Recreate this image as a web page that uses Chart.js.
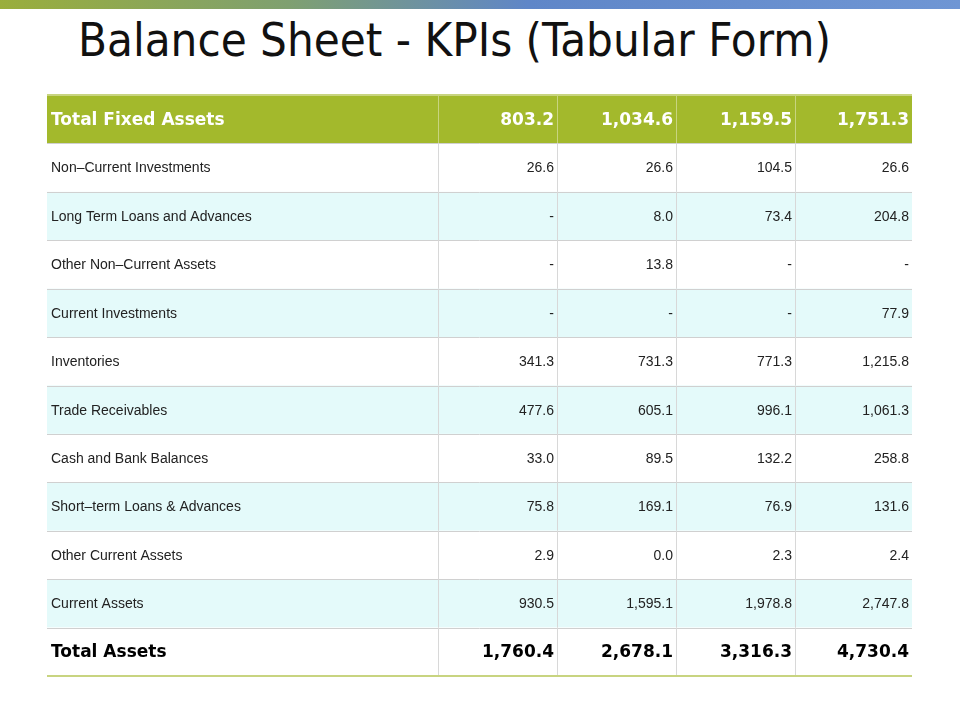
<!DOCTYPE html>
<html><head><meta charset="utf-8">
<script src="https://cdn.jsdelivr.net/npm/chart.js@4"></script>
<style>html,body{margin:0;padding:0;background:#fff;width:960px;height:720px;overflow:hidden}
#bar{position:absolute;left:0;top:0;width:960px;height:9px;background:linear-gradient(90deg,#9aae3c 0%,#7fa070 30%,#5f86c8 55%,#6f96d4 100%)}
h1{position:absolute;left:78px;top:12px;margin:0;font:400 47px "DejaVu Sans Condensed","DejaVu Sans",sans-serif;color:#111;white-space:nowrap}
#wrap{position:absolute;left:0;top:0;width:960px;height:720px}</style></head>
<body><div id="bar"></div><h1>Balance Sheet - KPIs (Tabular Form)</h1>
<div id="wrap"><canvas id="c" width="960" height="720"></canvas></div>
<script>
const rowLabels=["Total Fixed Assets","Non–Current Investments","Long Term Loans and Advances","Other Non–Current Assets","Current Investments","Inventories","Trade Receivables","Cash and Bank Balances","Short–term Loans & Advances","Other Current Assets","Current Assets","Total Assets"];
const col1=["803.2","26.6","-","-","-","341.3","477.6","33.0","75.8","2.9","930.5","1,760.4"];
const col2=["1,034.6","26.6","8.0","13.8","-","731.3","605.1","89.5","169.1","0.0","1,595.1","2,678.1"];
const col3=["1,159.5","104.5","73.4","-","-","771.3","996.1","132.2","76.9","2.3","1,978.8","3,316.3"];
const col4=["1,751.3","26.6","204.8","-","77.9","1,215.8","1,061.3","258.8","131.6","2.4","2,747.8","4,730.4"];
const boldRows=["Total Fixed Assets","Total Assets"];
const cols=[col1,col2,col3,col4];
const colEdges=[0,391,510,629,748,865];
const tablePlugin={id:'table',afterDraw(ch){
 const ctx=ch.ctx,y=ch.scales.y,x=ch.scales.x;
 const n=rowLabels.length,h=y.height/n;
 const X=v=>x.getPixelForValue(v);
 ctx.save();
 rowLabels.forEach((lab,i)=>{
  const cy=y.getPixelForValue(i),top=cy-h/2;
  ctx.fillStyle=i===0?'#a3b92c':(i%2===0?'#e4fafa':'#ffffff');
  ctx.fillRect(X(0),top,X(865)-X(0),h);
 });
 rowLabels.forEach((lab,i)=>{
  const cy=y.getPixelForValue(i),top=cy-h/2;
  const bold=boldRows.includes(lab);
  ctx.fillStyle=i===0?'#ffffff':(bold?'#000':'#222');ctx.textBaseline='middle';
  ctx.font=bold?'bold 17px "DejaVu Sans",sans-serif':'14px "Liberation Sans",Arial,sans-serif';
  ctx.textAlign='left';ctx.fillText(lab,X(0)+4,cy+1);
  ctx.textAlign='right';
  cols.forEach((c,j)=>ctx.fillText(c[i],X(colEdges[j+2])-3,cy+1));
  ctx.strokeStyle=i===0?'#c8d480':'#d8d8d8';ctx.lineWidth=1;
  for(let k=1;k<5;k++){ctx.beginPath();ctx.moveTo(Math.round(X(colEdges[k]))+0.5,top);ctx.lineTo(Math.round(X(colEdges[k]))+0.5,top+h);ctx.stroke();}
  if(i<n-1){ctx.strokeStyle='#d0d0d0';ctx.beginPath();ctx.moveTo(X(0),Math.round(top+h)+0.5);ctx.lineTo(X(865),Math.round(top+h)+0.5);ctx.stroke();}
 });
 ctx.strokeStyle='#c8d480';ctx.lineWidth=2;
 ctx.beginPath();ctx.moveTo(X(0),y.top);ctx.lineTo(X(865),y.top);ctx.stroke();
 ctx.beginPath();ctx.moveTo(X(0),y.bottom);ctx.lineTo(X(865),y.bottom);ctx.stroke();
 ctx.restore();
}};
new Chart(document.getElementById('c'),{
 type:'bar',
 data:{labels:rowLabels,datasets:[{data:[],backgroundColor:'transparent'}]},
 options:{responsive:false,animation:false,indexAxis:'y',
  layout:{padding:{left:47,right:48,top:95,bottom:44}},
  plugins:{legend:{display:false},tooltip:{enabled:false}},
  scales:{x:{type:'linear',min:0,max:865,display:false},
   y:{type:'category',offset:true,display:false,grid:{display:false}}}},
 plugins:[tablePlugin]});
</script></body></html>
